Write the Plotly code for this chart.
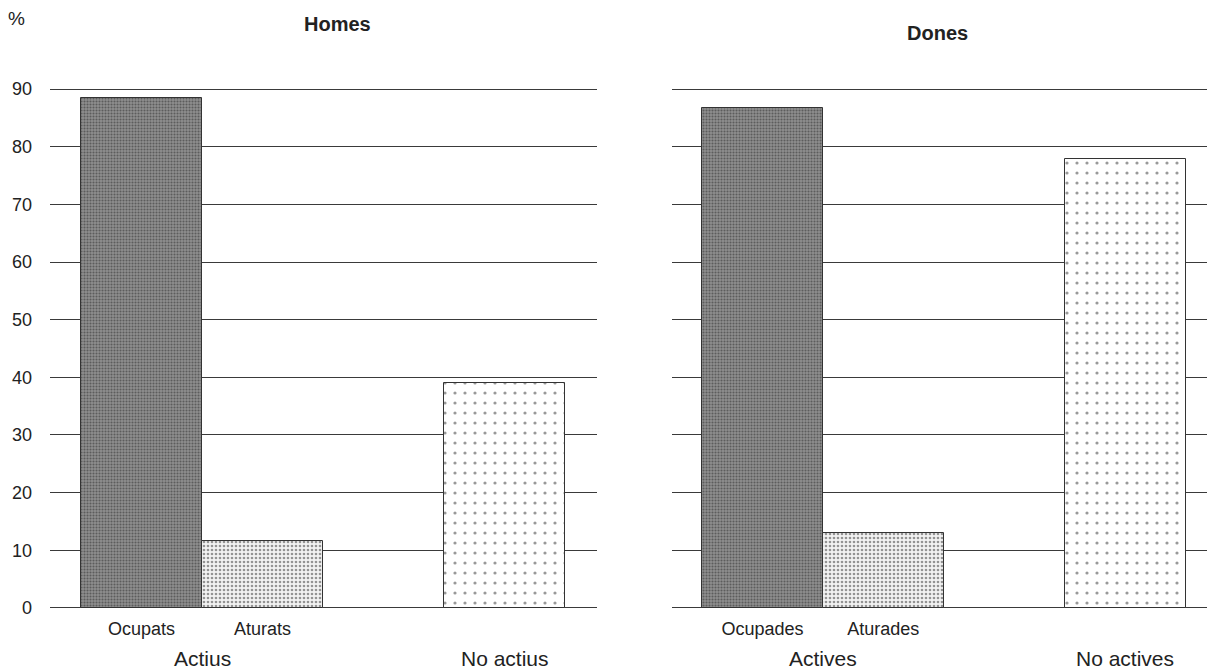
import plotly.graph_objects as go

# ---- data ----
panel_titles = ["Homes", "Dones"]
groups_men = ["Actius", "No actius"]
groups_women = ["Actives", "No actives"]
cats_men = ["Ocupats", "Aturats", "No actius"]
cats_women = ["Ocupades", "Aturades", "No actives"]
values_men = [88.4, 11.6, 39.0]
values_women = [86.8, 13.0, 77.8]
y_ticks = [0, 10, 20, 30, 40, 50, 60, 70, 80, 90]

FONT = "Liberation Sans, Arial, Helvetica, sans-serif"
OFF = 8  # page body margin
W, H = 1207, 663
ML, MR, MT, MB = 42, 0, 80, 62
PW = W - ML - MR
PH = H - MT - MB

# bar positions: first group has two adjacent bars, second group after a gap
xpos = [0, 1, 3]

patterns = [
    dict(shape=".", bgcolor="#8e8e8e", fgcolor="#2a2a2a", size=3, solidity=0.4),
    dict(shape=".", bgcolor="#f2f2f2", fgcolor="#333333", size=4, solidity=0.35),
    dict(shape=".", bgcolor="#ffffff", fgcolor="#333333", size=10, solidity=0.08),
]

fig = go.Figure()

dom_left = [0, 547 / PW]
dom_right = [622 / PW, 1]

for k, (vals, cats) in enumerate([(values_men, cats_men), (values_women, cats_women)]):
    xa = "x" if k == 0 else "x2"
    ya = "y" if k == 0 else "y2"
    for i in range(3):
        fig.add_trace(go.Bar(
            x=[xpos[i]], y=[vals[i]], width=[1.0],
            xaxis=xa, yaxis=ya,
            marker=dict(color=patterns[i]["bgcolor"], pattern=patterns[i],
                        line=dict(color="#333333", width=1)),
            name=cats[i], showlegend=False, hoverinfo="x+y",
        ))

axis_common = dict(showgrid=False, zeroline=False, showline=False, ticks="",
                   tickfont=dict(family=FONT, size=18, color="#222"),
                   ticklabelstandoff=7,
                   tickmode="array", tickvals=[0, 1], fixedrange=True)
yrange = [-0.2, 90.2]
fig.update_layout(
    xaxis=dict(domain=dom_left, range=[-0.756, 3.764], ticktext=cats_men[:2],
               anchor="y", **axis_common),
    xaxis2=dict(domain=dom_right, range=[-0.748, 3.744], ticktext=cats_women[:2],
                anchor="y2", **axis_common),
    yaxis=dict(domain=[0, 1], range=yrange, tickvals=y_ticks, showgrid=True,
               gridcolor="#3a3a3a", gridwidth=1, zeroline=False, showline=False,
               ticks="", tickfont=dict(family=FONT, size=18, color="#222"),
               ticklabelstandoff=17, anchor="x"),
    yaxis2=dict(domain=[0, 1], range=yrange, tickvals=y_ticks, showgrid=True,
                gridcolor="#3a3a3a", gridwidth=1, zeroline=False, showline=False,
                showticklabels=False, ticks="", anchor="x2"),
    width=W, height=H,
    margin=dict(l=ML, r=MR, t=MT, b=MB),
    plot_bgcolor="white", paper_bgcolor="white",
    bargap=0,
)

ann = []
# group labels under the axes
for xa, groups in [("x", groups_men), ("x2", groups_women)]:
    ann.append(dict(x=0.5, y=0, xref=xa, yref="paper", yshift=-49, yanchor="middle",
                    text=groups[0], showarrow=False,
                    font=dict(family=FONT, size=21, color="#222")))
    ann.append(dict(x=3, y=0, xref=xa, yref="paper", yshift=-49, yanchor="middle",
                    text=groups[1], showarrow=False,
                    font=dict(family=FONT, size=21, color="#222")))
# panel titles and unit label (screen pixel positions)
px_ann = [
    (337, 24, "<b>" + panel_titles[0] + "</b>", 20),
    (937, 33, "<b>" + panel_titles[1] + "</b>", 20),
    (16, 18, "%", 19),
]
for xp, yp, txt, fs in px_ann:
    ann.append(dict(x=(xp - OFF - ML) / PW, y=1 - (yp - OFF - MT) / PH,
                    xref="paper", yref="paper", xanchor="center", yanchor="middle",
                    text=txt, showarrow=False,
                    font=dict(family=FONT, size=fs, color="#222")))
fig.update_layout(annotations=ann)

fig.write_html("out.html")
